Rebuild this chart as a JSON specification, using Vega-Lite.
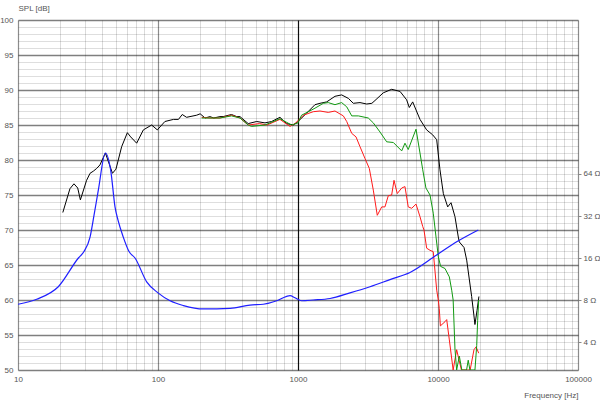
{
  "$schema": "https://vega.github.io/schema/vega-lite/v6.json",
  "width": 560,
  "height": 350,
  "autosize": "none",
  "padding": {"left": 18, "top": 20, "right": 22, "bottom": 30},
  "background": "white",
  "config": {
    "view": {"stroke": null},
    "font": "Liberation Sans",
    "axis": {"labelFont": "Liberation Sans", "titleFont": "Liberation Sans", "labelFontSize": 8, "titleFontSize": 8, "labelColor": "#555555", "titleColor": "#555555", "titleFontWeight": "normal"}
  },
  "datasets": {
    "spl": [
      {"f": 20.9, "db": 72.5, "curve": "0°"},
      {"f": 23.5, "db": 75.9, "curve": "0°"},
      {"f": 25.1, "db": 76.6, "curve": "0°"},
      {"f": 26.7, "db": 76.0, "curve": "0°"},
      {"f": 27.9, "db": 74.3, "curve": "0°"},
      {"f": 30.9, "db": 77.1, "curve": "0°"},
      {"f": 32.7, "db": 78.1, "curve": "0°"},
      {"f": 34.5, "db": 78.4, "curve": "0°"},
      {"f": 36.5, "db": 78.8, "curve": "0°"},
      {"f": 38.5, "db": 79.3, "curve": "0°"},
      {"f": 42.1, "db": 81.0, "curve": "0°"},
      {"f": 47.3, "db": 78.1, "curve": "0°"},
      {"f": 50.1, "db": 78.7, "curve": "0°"},
      {"f": 55.0, "db": 81.9, "curve": "0°"},
      {"f": 60.4, "db": 83.9, "curve": "0°"},
      {"f": 63.8, "db": 83.3, "curve": "0°"},
      {"f": 70.4, "db": 82.4, "curve": "0°"},
      {"f": 78.6, "db": 84.3, "curve": "0°"},
      {"f": 90.1, "db": 85.0, "curve": "0°"},
      {"f": 98.9, "db": 84.3, "curve": "0°"},
      {"f": 112, "db": 85.5, "curve": "0°"},
      {"f": 129, "db": 85.8, "curve": "0°"},
      {"f": 140, "db": 85.8, "curve": "0°"},
      {"f": 149, "db": 86.5, "curve": "0°"},
      {"f": 160, "db": 86.1, "curve": "0°"},
      {"f": 189, "db": 86.4, "curve": "0°"},
      {"f": 200, "db": 86.6, "curve": "0°"},
      {"f": 217, "db": 86.0, "curve": "0°"},
      {"f": 235, "db": 86.2, "curve": "0°"},
      {"f": 250, "db": 86.0, "curve": "0°"},
      {"f": 277, "db": 86.2, "curve": "0°"},
      {"f": 292, "db": 86.2, "curve": "0°"},
      {"f": 335, "db": 86.5, "curve": "0°"},
      {"f": 365, "db": 86.2, "curve": "0°"},
      {"f": 385, "db": 86.2, "curve": "0°"},
      {"f": 441, "db": 85.2, "curve": "0°"},
      {"f": 507, "db": 85.5, "curve": "0°"},
      {"f": 581, "db": 85.3, "curve": "0°"},
      {"f": 648, "db": 85.5, "curve": "0°"},
      {"f": 743, "db": 86.1, "curve": "0°"},
      {"f": 829, "db": 85.2, "curve": "0°"},
      {"f": 926, "db": 85.0, "curve": "0°"},
      {"f": 1000, "db": 85.5, "curve": "0°"},
      {"f": 1153, "db": 86.7, "curve": "0°"},
      {"f": 1322, "db": 87.9, "curve": "0°"},
      {"f": 1436, "db": 88.1, "curve": "0°"},
      {"f": 1603, "db": 88.3, "curve": "0°"},
      {"f": 1837, "db": 89.1, "curve": "0°"},
      {"f": 2050, "db": 89.3, "curve": "0°"},
      {"f": 2290, "db": 88.8, "curve": "0°"},
      {"f": 2484, "db": 88.1, "curve": "0°"},
      {"f": 2773, "db": 88.2, "curve": "0°"},
      {"f": 3097, "db": 88.0, "curve": "0°"},
      {"f": 3370, "db": 88.1, "curve": "0°"},
      {"f": 3548, "db": 88.5, "curve": "0°"},
      {"f": 4066, "db": 89.6, "curve": "0°"},
      {"f": 4667, "db": 90.1, "curve": "0°"},
      {"f": 5353, "db": 89.8, "curve": "0°"},
      {"f": 5970, "db": 88.6, "curve": "0°"},
      {"f": 6237, "db": 87.5, "curve": "0°"},
      {"f": 6594, "db": 88.3, "curve": "0°"},
      {"f": 7436, "db": 85.8, "curve": "0°"},
      {"f": 8295, "db": 84.3, "curve": "0°"},
      {"f": 9155, "db": 83.6, "curve": "0°"},
      {"f": 9788, "db": 82.9, "curve": "0°"},
      {"f": 10330, "db": 78.6, "curve": "0°"},
      {"f": 10920, "db": 75.2, "curve": "0°"},
      {"f": 11730, "db": 73.3, "curve": "0°"},
      {"f": 12390, "db": 73.9, "curve": "0°"},
      {"f": 13220, "db": 71.9, "curve": "0°"},
      {"f": 13960, "db": 69.0, "curve": "0°"},
      {"f": 14190, "db": 68.3, "curve": "0°"},
      {"f": 15340, "db": 67.5, "curve": "0°"},
      {"f": 16030, "db": 65.7, "curve": "0°"},
      {"f": 17390, "db": 60.5, "curve": "0°"},
      {"f": 18000, "db": 58.0, "curve": "0°"},
      {"f": 18360, "db": 56.5, "curve": "0°"},
      {"f": 19000, "db": 58.5, "curve": "0°"},
      {"f": 19600, "db": 60.5, "curve": "0°"},

      {"f": 205, "db": 86.1, "curve": "60°"},
      {"f": 235, "db": 86.0, "curve": "60°"},
      {"f": 277, "db": 86.0, "curve": "60°"},
      {"f": 335, "db": 86.4, "curve": "60°"},
      {"f": 385, "db": 86.0, "curve": "60°"},
      {"f": 441, "db": 85.0, "curve": "60°"},
      {"f": 530, "db": 85.2, "curve": "60°"},
      {"f": 600, "db": 85.0, "curve": "60°"},
      {"f": 743, "db": 85.8, "curve": "60°"},
      {"f": 877, "db": 84.8, "curve": "60°"},
      {"f": 952, "db": 85.2, "curve": "60°"},
      {"f": 1093, "db": 86.4, "curve": "60°"},
      {"f": 1286, "db": 86.9, "curve": "60°"},
      {"f": 1436, "db": 87.0, "curve": "60°"},
      {"f": 1644, "db": 86.8, "curve": "60°"},
      {"f": 1837, "db": 87.0, "curve": "60°"},
      {"f": 2108, "db": 86.3, "curve": "60°"},
      {"f": 2228, "db": 85.5, "curve": "60°"},
      {"f": 2421, "db": 83.8, "curve": "60°"},
      {"f": 2597, "db": 83.3, "curve": "60°"},
      {"f": 2773, "db": 81.9, "curve": "60°"},
      {"f": 3012, "db": 80.2, "curve": "60°"},
      {"f": 3231, "db": 78.8, "curve": "60°"},
      {"f": 3451, "db": 75.7, "curve": "60°"},
      {"f": 3683, "db": 72.1, "curve": "60°"},
      {"f": 3963, "db": 73.3, "curve": "60°"},
      {"f": 4180, "db": 73.3, "curve": "60°"},
      {"f": 4415, "db": 74.9, "curve": "60°"},
      {"f": 4667, "db": 75.0, "curve": "60°"},
      {"f": 4852, "db": 77.1, "curve": "60°"},
      {"f": 5117, "db": 75.2, "curve": "60°"},
      {"f": 5506, "db": 76.0, "curve": "60°"},
      {"f": 5808, "db": 76.2, "curve": "60°"},
      {"f": 6130, "db": 73.3, "curve": "60°"},
      {"f": 6486, "db": 73.1, "curve": "60°"},
      {"f": 6966, "db": 73.7, "curve": "60°"},
      {"f": 7436, "db": 71.9, "curve": "60°"},
      {"f": 7780, "db": 70.5, "curve": "60°"},
      {"f": 7943, "db": 70.0, "curve": "60°"},
      {"f": 8300, "db": 67.4, "curve": "60°"},
      {"f": 8770, "db": 67.1, "curve": "60°"},
      {"f": 9250, "db": 66.9, "curve": "60°"},
      {"f": 9790, "db": 61.4, "curve": "60°"},
      {"f": 10050, "db": 60.0, "curve": "60°"},
      {"f": 10210, "db": 58.8, "curve": "60°"},
      {"f": 10400, "db": 56.3, "curve": "60°"},
      {"f": 11220, "db": 56.9, "curve": "60°"},
      {"f": 11540, "db": 57.2, "curve": "60°"},
      {"f": 12050, "db": 54.3, "curve": "60°"},
      {"f": 12830, "db": 50.0, "curve": "60°"},
      {"f": 13590, "db": 52.9, "curve": "60°"},
      {"f": 14150, "db": 51.4, "curve": "60°"},
      {"f": 14700, "db": 50.0, "curve": "60°"},
      {"f": 16970, "db": 50.0, "curve": "60°"},
      {"f": 18070, "db": 52.9, "curve": "60°"},
      {"f": 18720, "db": 53.3, "curve": "60°"},
      {"f": 19540, "db": 52.4, "curve": "60°"},

      {"f": 205, "db": 86.0, "curve": "30°"},
      {"f": 235, "db": 86.0, "curve": "30°"},
      {"f": 277, "db": 86.0, "curve": "30°"},
      {"f": 335, "db": 86.3, "curve": "30°"},
      {"f": 385, "db": 86.0, "curve": "30°"},
      {"f": 441, "db": 85.0, "curve": "30°"},
      {"f": 465, "db": 84.8, "curve": "30°"},
      {"f": 581, "db": 85.0, "curve": "30°"},
      {"f": 743, "db": 85.9, "curve": "30°"},
      {"f": 900, "db": 85.0, "curve": "30°"},
      {"f": 1000, "db": 85.3, "curve": "30°"},
      {"f": 1060, "db": 86.4, "curve": "30°"},
      {"f": 1186, "db": 86.9, "curve": "30°"},
      {"f": 1322, "db": 87.4, "curve": "30°"},
      {"f": 1517, "db": 88.1, "curve": "30°"},
      {"f": 1644, "db": 88.2, "curve": "30°"},
      {"f": 1837, "db": 87.9, "curve": "30°"},
      {"f": 2050, "db": 88.2, "curve": "30°"},
      {"f": 2228, "db": 87.6, "curve": "30°"},
      {"f": 2421, "db": 86.3, "curve": "30°"},
      {"f": 2699, "db": 86.3, "curve": "30°"},
      {"f": 3177, "db": 86.0, "curve": "30°"},
      {"f": 3451, "db": 85.3, "curve": "30°"},
      {"f": 3853, "db": 84.0, "curve": "30°"},
      {"f": 4300, "db": 82.6, "curve": "30°"},
      {"f": 4800, "db": 82.5, "curve": "30°"},
      {"f": 5506, "db": 81.3, "curve": "30°"},
      {"f": 5808, "db": 82.4, "curve": "30°"},
      {"f": 6130, "db": 81.5, "curve": "30°"},
      {"f": 6966, "db": 84.4, "curve": "30°"},
      {"f": 7436, "db": 81.0, "curve": "30°"},
      {"f": 7780, "db": 78.6, "curve": "30°"},
      {"f": 8200, "db": 76.0, "curve": "30°"},
      {"f": 8770, "db": 75.0, "curve": "30°"},
      {"f": 9250, "db": 72.4, "curve": "30°"},
      {"f": 9680, "db": 69.0, "curve": "30°"},
      {"f": 10050, "db": 66.2, "curve": "30°"},
      {"f": 10440, "db": 64.8, "curve": "30°"},
      {"f": 11220, "db": 64.5, "curve": "30°"},
      {"f": 12050, "db": 63.3, "curve": "30°"},
      {"f": 12530, "db": 61.4, "curve": "30°"},
      {"f": 12830, "db": 60.0, "curve": "30°"},
      {"f": 13220, "db": 53.0, "curve": "30°"},
      {"f": 13590, "db": 50.0, "curve": "30°"},
      {"f": 14200, "db": 52.0, "curve": "30°"},
      {"f": 14800, "db": 50.0, "curve": "30°"},
      {"f": 16000, "db": 50.0, "curve": "30°"},
      {"f": 16440, "db": 51.4, "curve": "30°"},
      {"f": 16900, "db": 50.0, "curve": "30°"},
      {"f": 18360, "db": 50.0, "curve": "30°"},
      {"f": 18900, "db": 53.5, "curve": "30°"},
      {"f": 19200, "db": 57.1, "curve": "30°"},
      {"f": 19540, "db": 60.0, "curve": "30°"}
    ],
    "imp": [
      {"f": 10, "ohm": 7.46},
      {"f": 13.6, "ohm": 8.1},
      {"f": 19.4, "ohm": 9.96},
      {"f": 27, "ohm": 16},
      {"f": 29.6, "ohm": 17.8},
      {"f": 32.7, "ohm": 22.6},
      {"f": 34.9, "ohm": 32.3},
      {"f": 37.5, "ohm": 49.2},
      {"f": 42.1, "ohm": 90.5},
      {"f": 46.1, "ohm": 66.3},
      {"f": 49.3, "ohm": 37.2},
      {"f": 51.8, "ohm": 29.9},
      {"f": 56.5, "ohm": 22.6},
      {"f": 62.1, "ohm": 17.8},
      {"f": 68.5, "ohm": 16},
      {"f": 83, "ohm": 10.8},
      {"f": 100, "ohm": 9.0},
      {"f": 122, "ohm": 7.9},
      {"f": 152, "ohm": 7.3},
      {"f": 211, "ohm": 6.9},
      {"f": 327, "ohm": 6.96},
      {"f": 454, "ohm": 7.36},
      {"f": 565, "ohm": 7.46},
      {"f": 705, "ohm": 7.9},
      {"f": 830, "ohm": 8.5},
      {"f": 877, "ohm": 8.6},
      {"f": 952, "ohm": 8.3},
      {"f": 1060, "ohm": 7.9},
      {"f": 1286, "ohm": 8.0},
      {"f": 1694, "ohm": 8.2},
      {"f": 2352, "ohm": 9.0},
      {"f": 3268, "ohm": 9.96},
      {"f": 4539, "ohm": 11.2},
      {"f": 6310, "ohm": 12.6},
      {"f": 9780, "ohm": 16.8},
      {"f": 13600, "ohm": 20.9},
      {"f": 19400, "ohm": 25.4}
    ]
  },
  "layer": [
    {
      "data": {"name": "spl"},
      "mark": {"type": "line", "strokeWidth": 1, "clip": true},
      "encoding": {
        "x": {
          "field": "f", "type": "quantitative",
          "scale": {"type": "log", "domain": [10, 100000], "nice": false},
          "axis": {
            "values": [10, 20, 30, 40, 50, 60, 70, 80, 90, 100, 200, 300, 400, 500, 600, 700, 800, 900, 1000, 2000, 3000, 4000, 5000, 6000, 7000, 8000, 9000, 10000, 20000, 30000, 40000, 50000, 60000, 70000, 80000, 90000, 100000],
            "format": "d",
            "labelExpr": "abs(log(datum.value)/LN10 - round(log(datum.value)/LN10)) < 1e-6 ? datum.label : ''",
            "labelOverlap": false,
            "labelFlush": false,
            "labelPadding": 5,
            "ticks": false,
            "domain": false,
            "grid": true,
            "gridColor": {"condition": [{"test": "datum.value === 1000", "value": "rgba(0,0,0,0.95)"}, {"test": "abs(log(datum.value)/LN10 - round(log(datum.value)/LN10)) < 1e-6", "value": "rgba(0,0,0,0.45)"}], "value": "rgba(0,0,0,0.14)"},
            "gridWidth": {"condition": {"test": "abs(log(datum.value)/LN10 - round(log(datum.value)/LN10)) < 1e-6", "value": 1.2}, "value": 1},
            "title": "Frequency [Hz]",
            "titleX": 560,
            "titleY": 27,
            "titleAlign": "right",
            "titleAnchor": "end",
            "titleBaseline": "alphabetic"
          }
        },
        "y": {
          "field": "db", "type": "quantitative",
          "scale": {"domain": [50, 100], "nice": false, "zero": false},
          "axis": {
            "values": [50, 51, 52, 53, 54, 55, 56, 57, 58, 59, 60, 61, 62, 63, 64, 65, 66, 67, 68, 69, 70, 71, 72, 73, 74, 75, 76, 77, 78, 79, 80, 81, 82, 83, 84, 85, 86, 87, 88, 89, 90, 91, 92, 93, 94, 95, 96, 97, 98, 99, 100],
            "labelExpr": "datum.value % 5 === 0 ? datum.label : ''",
            "labelOverlap": false,
            "labelFlush": false,
            "labelPadding": 5,
            "ticks": false,
            "domain": false,
            "grid": true,
            "gridColor": {"condition": {"test": "datum.value % 5 === 0", "value": "rgba(0,0,0,0.5)"}, "value": "rgba(0,0,0,0.13)"},
            "gridWidth": {"condition": {"test": "datum.value % 5 === 0", "value": 1.6}, "value": 1},
            "title": "SPL [dB]",
            "titleAngle": 0,
            "titleX": 0,
            "titleY": -12,
            "titleAlign": "left",
            "titleBaseline": "middle",
            "orient": "left"
          }
        },
        "color": {
          "field": "curve", "type": "nominal",
          "scale": {"domain": ["60°", "30°", "0°"], "range": ["#ff1a1a", "#119911", "#000000"]},
          "legend": null
        }
      }
    },
    {
      "data": {"name": "imp"},
      "mark": {"type": "line", "strokeWidth": 1.2, "color": "#1f1fff", "interpolate": "monotone", "clip": true},
      "encoding": {
        "x": {"field": "f", "type": "quantitative"},
        "y": {
          "field": "ohm", "type": "quantitative",
          "scale": {"type": "log", "base": 2, "domain": [2.52, 812.7], "nice": false},
          "axis": {
            "orient": "right",
            "values": [4, 8, 16, 32, 64],
            "labelExpr": "datum.value + ' Ω'",
            "grid": false,
            "domain": false,
            "tickSize": 3,
            "tickColor": "#888888",
            "labelPadding": 2,
            "title": null
          }
        }
      }
    }
  ],
  "resolve": {"scale": {"y": "independent"}, "axis": {"y": "independent"}}
}
